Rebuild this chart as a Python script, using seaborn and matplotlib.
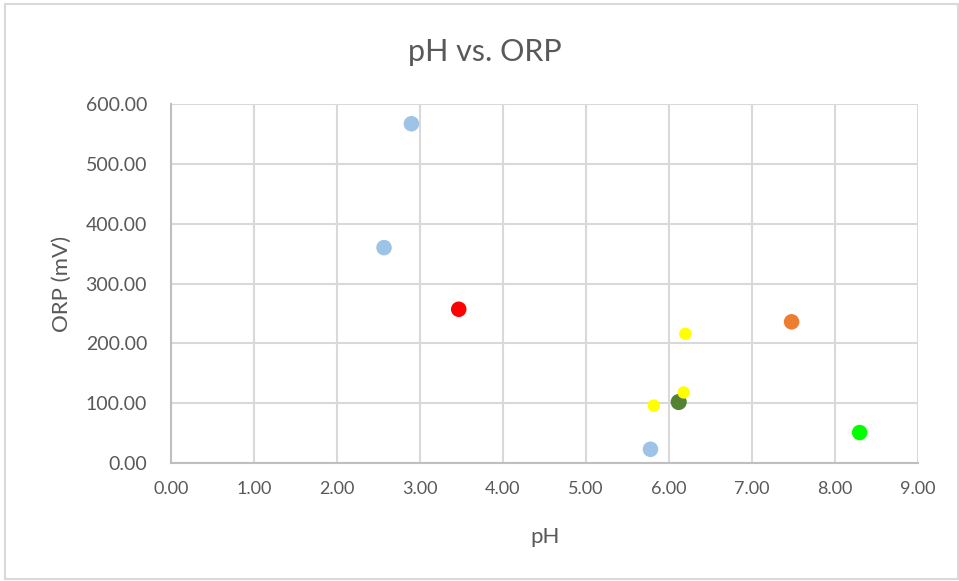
import matplotlib
matplotlib.use('Agg')
import matplotlib.pyplot as plt
import seaborn as sns
import pandas as pd
from matplotlib.patches import Rectangle

# series: (pH, ORP)
blue_ph = [2.90, 2.57, 5.78]
blue_orp = [567, 360, 23]
red_ph = [3.47]
red_orp = [257]
orange_ph = [7.48]
orange_orp = [236]
yellow_ph = [6.20, 6.18, 5.82]
yellow_orp = [216, 118, 96]
dkgreen_ph = [6.12]
dkgreen_orp = [102]
green_ph = [8.30]
green_orp = [51]

series = [
    (blue_ph, blue_orp, '#9DC3E6', 125),
    (red_ph, red_orp, '#FF0000', 125),
    (orange_ph, orange_orp, '#ED7D31', 125),
    (dkgreen_ph, dkgreen_orp, '#548235', 135),
    (yellow_ph, yellow_orp, '#FFFF00', 80),
    (green_ph, green_orp, '#00FF00', 125),
]

sns.set_style('white')
plt.rcParams['font.family'] = ['Lato', 'DejaVu Sans']

fig = plt.figure(figsize=(9.59, 5.81), dpi=100)
ax = fig.add_axes([0.178, 0.203, 0.779, 0.618])

for xs, ys, col, s in series:
    df = pd.DataFrame({'pH': xs, 'ORP': ys})
    sns.scatterplot(data=df, x='pH', y='ORP', ax=ax, color=col, s=s,
                    edgecolor='none', zorder=3)

ax.set_xlim(0, 9)
ax.set_ylim(0, 600)
ax.set_xticks(range(0, 10))
ax.set_yticks(range(0, 700, 100))
ax.set_xticklabels([f'{v:.2f}' for v in range(0, 10)])
ax.set_yticklabels([f'{v:.2f}' for v in range(0, 700, 100)])
ax.grid(True, color='#D9D9D9', linewidth=1.5)
ax.set_axisbelow(True)
for side in ['top', 'right']:
    ax.spines[side].set_visible(False)
for side in ['left', 'bottom']:
    ax.spines[side].set_color('#BFBFBF')
    ax.spines[side].set_linewidth(1.5)
ax.tick_params(axis='x', length=0, labelsize=13, labelcolor='#595959', pad=13)
ax.tick_params(axis='y', length=0, labelsize=14, labelcolor='#595959', pad=17)
ax.set_xlabel('')
ax.set_ylabel('')

fig.text(0.506, 0.91, 'pH vs. ORP', ha='center', va='center', fontsize=22, color='#595959')
fig.text(0.568, 0.075, 'pH', ha='center', va='center', fontsize=16, color='#595959')
fig.text(0.065, 0.512, 'ORP (mV)', ha='center', va='center', rotation=90, fontsize=16,
         color='#595959')

fig.add_artist(Rectangle((0.005, 0.003), 0.994, 0.99, transform=fig.transFigure,
                         fill=False, edgecolor='#D9D9D9', linewidth=1.5))

fig.savefig('out.png', dpi=100)
